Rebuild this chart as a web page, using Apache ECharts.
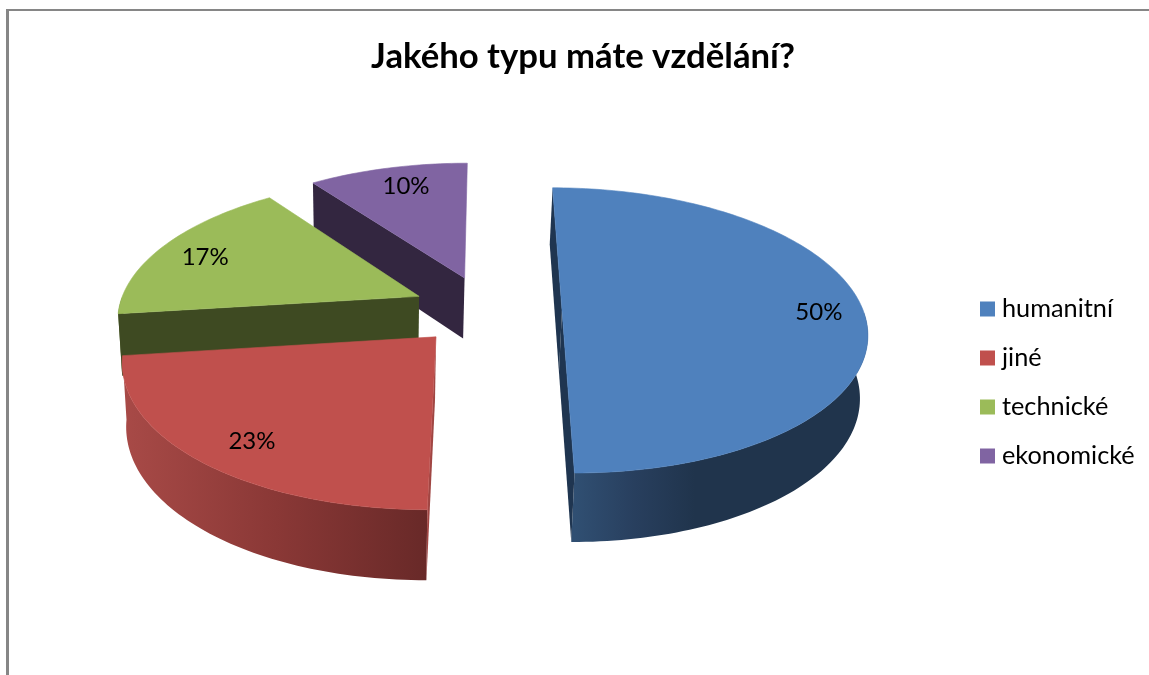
<!DOCTYPE html>
<html lang="cs">
<head>
<meta charset="utf-8">
<style>html,body{margin:0;padding:0;background:#fff}#chart{width:1149px;height:675px}</style>
<script src="https://cdn.jsdelivr.net/npm/echarts@6/dist/echarts.min.js"></script>
</head>
<body>
<div id="chart"></div>
<script>
// Data
const chartTitle = 'Jakého typu máte vzdělání?';
const categories = ['humanitní', 'jiné', 'technické', 'ekonomické'];
const shares = [50, 23, 17, 10];

// Colours per slice: top face, radial cut face, outer wall gradient
const topColors = ['#4f81bd', '#c0504d', '#9bbb59', '#8064a2'];
const cutColors = ['#1f3550', '#a04643', '#3e4a22', '#332640'];
const wallStops = [
  ['#304f72', '#283f5e', '#20344c'],
  ['#a84a47', '#8a3836', '#682928'],
  ['#5d7035', '#4a5a2a', '#3e4a22'],
  ['#4d3c61', '#3f3150', '#332640']
];
const wallSpan = [[575, 695], [123, 429], [119, 420], [314, 468]];

// Projection of the tilted, exploded pie
const pie = { cx: 487, cy: 310, r: 301, explode: 75, tilt: 0.464, persp: 0.143, depth: 62, taper: 0.984, vanishX: 372, labelAt: 0.85 };
const labelNudge = [[1, 2], [13, 1], [4, 5], [8, 3]];
const fontFamily = 'Lato, "Open Sans", sans-serif';

const total = shares.reduce((a, b) => a + b, 0);
const starts = shares.map((_, i) => shares.slice(0, i).reduce((a, b) => a + b, 0) / total * Math.PI * 2);
const ends = shares.map((v, i) => starts[i] + v / total * Math.PI * 2);

function project(wx, wy, lowered) {
  const s = 1 / (1 - pie.persp * wy / pie.r);
  const x = pie.cx + wx * s;
  const y = pie.cy + pie.tilt * wy * s;
  if (!lowered) return [x, y];
  return [pie.vanishX + (x - pie.vanishX) * pie.taper, y + pie.depth * Math.pow(s, 0.7)];
}

// Signed area of a cut face decides whether it turns towards the viewer
function cross(a, b, c) {
  return (b[0] - a[0]) * (c[1] - a[1]) - (b[1] - a[1]) * (c[0] - a[0]);
}

function pieShapes(i) {
  const mid = (starts[i] + ends[i]) / 2;
  const ox = Math.sin(mid) * pie.explode;
  const oy = -Math.cos(mid) * pie.explode;
  const rim = (a, f) => [ox + f * pie.r * Math.sin(a), oy - f * pie.r * Math.cos(a)];
  const angles = [];
  const steps = Math.ceil(shares[i] * 3);
  for (let k = 0; k <= steps; k++) angles.push(starts[i] + (ends[i] - starts[i]) * k / steps);
  const arc = angles.map(a => rim(a, 1));

  const apexTop = project(ox, oy, false);
  const apexLow = project(ox, oy, true);
  const arcTop = arc.map(p => project(p[0], p[1], false));
  const arcLow = arc.map(p => project(p[0], p[1], true));
  const last = arc.length - 1;

  // Only the front half of the rim has a visible outer wall
  const front = arc.map((_, k) => k).filter(k => Math.cos(angles[k]) < 0);
  const wallTop = front.map(k => arcTop[k]);
  const wallLow = front.map(k => arcLow[k]).reverse();
  const wallFill = {
    type: 'linear', global: true,
    x: wallSpan[i][0], y: 0, x2: wallSpan[i][1], y2: 0,
    colorStops: wallStops[i].map((c, n) => ({ offset: n / 2, color: c }))
  };

  const children = [];
  if (front.length > 1) {
    children.push({ type: 'polygon', shape: { points: wallTop.concat(wallLow) }, style: { fill: wallFill } });
  }
  if (cross(apexTop, arcTop[0], arcLow[0]) < 0) {
    children.push({ type: 'polygon', shape: { points: [apexTop, arcTop[0], arcLow[0], apexLow] }, style: { fill: cutColors[i] } });
  }
  if (cross(apexTop, arcTop[last], arcLow[last]) > 100) {
    children.push({ type: 'polygon', shape: { points: [apexTop, arcTop[last], arcLow[last], apexLow] }, style: { fill: cutColors[i] } });
  }
  children.push({ type: 'polygon', shape: { points: [apexTop].concat(arcTop) }, style: { fill: topColors[i], stroke: topColors[i], lineWidth: 0.6 } });

  const labelPoint = rim(mid, pie.labelAt);
  const lp = project(labelPoint[0], labelPoint[1], false);
  children.push({
    type: 'text',
    style: {
      text: shares[i] + '%', x: lp[0] + labelNudge[i][0], y: lp[1] + labelNudge[i][1],
      align: 'center', verticalAlign: 'middle', fill: '#000', fontFamily: fontFamily, fontSize: 24
    }
  });
  return { type: 'group', children: children };
}

const chart = echarts.init(document.getElementById('chart'), null, { renderer: 'canvas' });
chart.setOption({
  animation: false,
  backgroundColor: '#ffffff',
  color: topColors,
  title: {
    text: chartTitle, left: 578, top: 34, textAlign: 'center',
    textStyle: { fontFamily: fontFamily, fontWeight: 'bold', fontSize: 34.7, color: '#000' }
  },
  legend: {
    orient: 'vertical', left: 975, top: 291.5,
    data: categories, icon: 'rect', itemWidth: 15, itemHeight: 15, itemGap: 24, selectedMode: false,
    textStyle: { fontFamily: fontFamily, fontSize: 25.3, color: '#000', lineHeight: 15, padding: [0, 0, 0, 2] }
  },
  graphic: [
    { type: 'rect', silent: true, shape: { x: 6, y: 9, width: 3, height: 666 }, style: { fill: '#868686' } },
    { type: 'rect', silent: true, shape: { x: 6, y: 9, width: 1143, height: 2 }, style: { fill: '#868686' } }
  ],
  // Back slices first so the nearer ones paint over them
  series: categories.map((name, i) => ({
    type: 'custom',
    name: name,
    coordinateSystem: 'none',
    z: 6 - i,
    itemStyle: { color: topColors[i] },
    data: [shares[i]],
    renderItem: () => pieShapes(i)
  }))
});
</script>
</body>
</html>
